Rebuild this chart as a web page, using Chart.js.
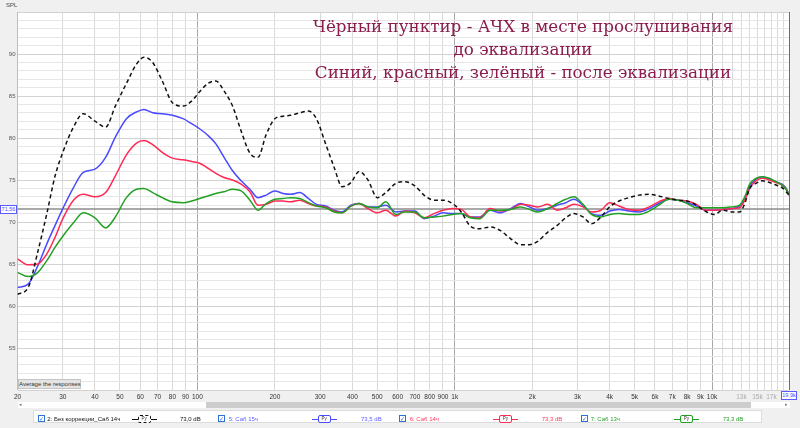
<!DOCTYPE html>
<html lang="ru">
<head>
<meta charset="utf-8">
<script src="https://cdn.jsdelivr.net/npm/chart.js@4.4.1/dist/chart.umd.min.js"></script>
<style>
  html, body { margin: 0; padding: 0; }
  body { width: 800px; height: 428px; background: #f0f0f0; position: relative; overflow: hidden; font-family: "Liberation Sans", Arial, sans-serif; }
  #chart { position: absolute; left: 0; top: 0; }
  .abs { position: absolute; white-space: nowrap; }
  .title { left: 523px; top: 14.7px; transform: translateX(-50%); color: #8b1c4e; font-family: "DejaVu Serif", serif; font-size: 16.75px; line-height: 23px; text-align: center; }
  .spl { left: 6px; top: 2px; font-size: 6px; color: #444; }
  .cursor { left: 0; top: 205px; width: 15px; height: 7px; border: 1px solid #5a5aff; background: #fff; color: #4a4aff; font-size: 5.5px; line-height: 7px; text-align: center; }
  .maxbox { left: 781px; top: 391px; width: 14px; height: 7px; border: 1px solid #5a5aff; background: #fff; color: #4a4aff; font-size: 5.5px; line-height: 7px; text-align: center; }
  .avg { left: 18px; top: 379px; width: 63px; height: 10px; background: #e4e4e4; border: 1px solid #c4c4c4; font-size: 6px; line-height: 8px; text-align: center; color: #333; box-sizing: border-box; }
  .track { left: 18px; top: 402px; width: 772px; height: 6px; background: #fff; }
  .thumb { left: 206px; top: 402px; width: 545px; height: 6px; background: #cdcdcd; }
  .arrow { top: 401px; font-size: 5px; color: #777; }
  .legend { left: 33px; top: 410px; width: 729px; height: 13px; background: #fff; border: 1px solid #dcdcdc; box-sizing: border-box; }
  .chk { top: 415px; width: 7px; height: 7px; border: 1px solid #2f6fd8; box-sizing: border-box; color: #2f6fd8; font-size: 6px; line-height: 6px; text-align: center; background: #fff; }
  .ltxt { top: 415px; font-size: 6px; line-height: 8px; }
  .sym-line { top: 419px; height: 0; border-top: 1.3px solid; }
  .sym-box { top: 415px; width: 13px; height: 8px; border: 1.3px solid; border-radius: 2px; background: #fff; box-sizing: border-box; font-size: 4.5px; line-height: 6px; text-align: center; color: #333; }
</style>
</head>
<body>
<canvas id="chart" width="800" height="428"></canvas>

<div class="abs title">
  <div>Чёрный пунктир - АЧХ в месте прослушивания</div>
  <div>до эквализации</div>
  <div>Синий, красный, зелёный - после эквализации</div>
</div>
<div class="abs spl">SPL</div>
<div class="abs cursor">71,56</div>
<div class="abs maxbox">19,9k</div>
<div class="abs avg">Average the responses</div>
<div class="abs track"></div>
<div class="abs thumb"></div>
<div class="abs arrow" style="left:19px">◂</div>
<div class="abs arrow" style="left:785px">▸</div>

<div class="abs legend"></div>
<div id="legendItems"></div>

<script>
// частоты, Гц
const freqs = [
  20, 22, 24, 26, 28, 30, 33, 36, 40, 44, 48, 53, 58, 62, 67, 73, 80, 88, 95,
  102, 110, 118, 127, 137, 148, 160, 172, 185, 200, 215, 230, 250, 270, 290,
  315, 340, 365, 395, 425, 460, 500, 540, 590, 640, 700, 760, 830, 900, 980,
  1060, 1150, 1250, 1370, 1500, 1650, 1800, 1950, 2100, 2300, 2500, 2700, 2900,
  3150, 3400, 3700, 4000, 4350, 4750, 5200, 5700, 6200, 6800, 7400, 8000, 8700,
  9400, 10200, 11000, 12000, 12800, 13400, 14000, 14800, 15700, 16700, 17700,
  18700, 19400, 19900
];

// 2: Без коррекции_Саб 14ч (чёрный пунктир)
const noEqLevels = [
  61.4, 62.2, 66.5, 71.0, 75.5, 78.3, 81.3, 82.9, 82.0, 81.3, 83.8, 86.5, 88.8, 89.6, 89.0, 86.8, 84.2, 83.8, 84.4,
  85.5, 86.5, 86.8, 85.6, 83.8, 80.8, 78.2, 77.7, 80.4, 82.3, 82.6, 82.7, 83.0, 83.2, 82.3,
  79.3, 76.5, 74.2, 74.7, 76.0, 75.0, 72.9, 73.5, 74.6, 74.8, 74.3, 73.2, 72.6, 72.6, 72.2,
  71.2, 69.5, 69.2, 69.4, 69.0, 68.0, 67.3, 67.3, 67.7, 68.8, 69.6, 70.5, 71.0,
  70.6, 69.8, 70.6, 71.8, 72.5, 72.9, 73.2, 73.3, 73.1, 72.8, 72.6, 72.5, 72.0,
  71.3, 70.9, 71.4, 71.2, 71.2, 72.2, 74.0, 74.6, 74.9, 74.7, 74.4,
  74.1, 73.6, 73.2
];

// 5: Саб 15ч (синий)
const sub15Levels = [
  62.2, 62.6, 64.8, 67.4, 69.6, 71.6, 74.1, 75.9, 76.3, 77.7, 80.1, 82.3, 83.1, 83.4, 83.0, 82.9, 82.7, 82.3, 81.7,
  81.1, 80.3, 79.3, 77.7, 76.1, 74.9, 73.9, 72.9, 73.2, 73.7, 73.4, 73.3, 73.5, 72.8, 72.1,
  71.9, 71.4, 71.2, 72.0, 72.2, 71.8, 71.8, 72.0, 71.2, 71.3, 71.3, 70.4, 70.7, 71.1, 71.0,
  71.0, 70.6, 70.6, 71.4, 71.1, 71.6, 72.2, 71.8, 71.4, 71.6, 72.0, 72.3, 72.7,
  72.0, 71.0, 70.8, 71.3, 71.5, 71.3, 71.2, 71.6, 72.2, 72.7, 72.6, 72.3, 71.9,
  71.4, 71.4, 71.5, 71.6, 71.9, 72.8, 74.2, 75.1, 75.4, 75.1, 74.8,
  74.5, 74.0, 73.2
];

// 6: Саб 14ч (красный)
const sub14Levels = [
  65.6, 64.9, 65.0, 66.2, 68.2, 70.4, 72.6, 73.3, 73.0, 73.5, 75.5, 78.0, 79.4, 79.7, 79.2, 78.3, 77.6, 77.4, 77.2,
  77.0, 76.4, 75.8, 75.3, 75.0, 74.5, 73.6, 72.0, 72.1, 72.5, 72.5, 72.4, 72.6, 72.2, 71.9,
  71.8, 71.3, 71.1, 71.9, 72.2, 71.6, 71.1, 71.4, 70.7, 71.3, 71.1, 70.5, 71.0, 71.4, 71.6,
  71.5, 70.6, 70.5, 71.6, 71.3, 71.5, 72.1, 72.0, 71.8, 72.1, 71.4, 71.7, 72.1,
  71.8, 71.2, 71.4, 72.3, 71.9, 71.5, 71.4, 71.8, 72.4, 72.8, 72.6, 72.5, 72.1,
  71.4, 71.4, 71.5, 71.6, 71.7, 72.6, 74.0, 74.9, 75.2, 75.0, 74.7,
  74.4, 73.9, 73.2
];

// 7: Саб 13ч (зелёный)
const sub13Levels = [
  64.0, 63.5, 64.0, 65.4, 67.0, 68.3, 69.9, 71.1, 70.5, 69.3, 70.6, 72.9, 73.9, 74.0, 73.5, 72.9, 72.4, 72.3, 72.5,
  72.8, 73.1, 73.4, 73.6, 73.9, 73.7, 72.6, 71.4, 72.2, 72.7, 72.8, 72.9, 72.8, 72.3, 71.9,
  71.7, 71.2, 71.1, 71.9, 72.2, 71.8, 71.7, 72.4, 70.9, 71.2, 71.2, 70.5, 70.6, 70.7, 70.9,
  71.0, 70.5, 70.4, 71.4, 71.4, 71.5, 71.8, 71.5, 71.2, 71.6, 72.2, 72.7, 73.0,
  72.1, 70.9, 70.6, 70.9, 71.0, 70.9, 70.9, 71.3, 72.0, 72.7, 72.6, 72.2, 71.7,
  71.7, 71.7, 71.7, 71.8, 72.0, 73.0, 74.5, 75.2, 75.4, 75.2, 74.8,
  74.4, 73.9, 73.3
];

const targetLevel = 71.56;

const xTicks = [20, 30, 40, 50, 60, 70, 80, 90, 100, 200, 300, 400, 500, 600, 700, 800, 900,
  1000, 2000, 3000, 4000, 5000, 6000, 7000, 8000, 9000, 10000, 11000, 12000, 13000, 14000,
  15000, 16000, 17000, 18000, 19000, 19900];
const xTickText = ['20', '30', '40', '50', '60', '70', '80', '90', '100', '200', '300', '400', '500', '600', '700', '800', '900',
  '1k', '2k', '3k', '4k', '5k', '6k', '7k', '8k', '9k', '10k', '', '', '13k', '',
  '15k', '', '17k', '', '', ''];
const yLabelValues = [55, 60, 65, 70, 75, 80, 85, 90];

const legendItems = [
  { chk: 37.7, name: '2: Без коррекции_Саб 14ч', nameX: 47.3, symX: 131.7, val: '73,0 dB', valX: 180, color: '#111', text: '#111', dashed: true },
  { chk: 218, name: '5: Саб 15ч', nameX: 228.7, symX: 311.7, val: '73,5 dB', valX: 361, color: '#4a4aff', text: '#5c5cff' },
  { chk: 399, name: '6: Саб 14ч', nameX: 409.7, symX: 493, val: '73,3 dB', valX: 541.7, color: '#ff2a55', text: '#ff3a60' },
  { chk: 580.7, name: '7: Саб 13ч', nameX: 590.7, symX: 674, val: '73,3 dB', valX: 722.7, color: '#22a022', text: '#2aa02a' },
];

function pts(levels) {
  return freqs.map((f, i) => ({ x: f, y: levels[i] }));
}

const legendEl = document.getElementById('legendItems');
legendEl.innerHTML = legendItems.map((it) => `
  <div class="abs chk" style="left:${it.chk}px">✓</div>
  <div class="abs ltxt" style="left:${it.nameX}px;color:${it.text}">${it.name}</div>
  <div class="abs sym-line" style="left:${it.symX}px;width:25px;border-top-color:${it.color}"></div>
  <div class="abs sym-box" style="left:${it.symX + 6}px;border-color:${it.color};border-style:${it.dashed ? 'dashed' : 'solid'}">Ру</div>
  <div class="abs ltxt" style="left:${it.valX}px;color:${it.text}">${it.val}</div>`).join('');

const plotBg = {
  id: 'plotBg',
  beforeDraw(chart) {
    const { ctx, chartArea: a } = chart;
    ctx.save();
    ctx.fillStyle = '#ffffff';
    ctx.fillRect(a.left, a.top, a.right - a.left, a.bottom - a.top);
    ctx.restore();
  },
};

Chart.defaults.font.family = '"Liberation Sans", Arial, sans-serif';

const lineBase = { pointRadius: 0, borderWidth: 1.5, fill: false, cubicInterpolationMode: 'monotone' };

new Chart(document.getElementById('chart'), {
  type: 'line',
  data: {
    datasets: [
      { ...lineBase, label: 'Без коррекции', data: pts(noEqLevels), borderColor: '#111111', borderDash: [4, 3] },
      { ...lineBase, label: 'Саб 13ч', data: pts(sub13Levels), borderColor: '#22a022' },
      { ...lineBase, label: 'Саб 14ч', data: pts(sub14Levels), borderColor: '#ff2a55' },
      { ...lineBase, label: 'Саб 15ч', data: pts(sub15Levels), borderColor: '#4a4aff' },
      { ...lineBase, label: 'cursor', data: [{ x: 20, y: targetLevel }, { x: 19900, y: targetLevel }], borderColor: '#8c8c8c', borderWidth: 1.5, cubicInterpolationMode: 'default', tension: 0 },
    ],
  },
  options: {
    responsive: false,
    animation: false,
    events: [],
    layout: { padding: { top: 12, right: 11, left: 0, bottom: 0 } },
    plugins: { legend: { display: false }, tooltip: { enabled: false } },
    scales: {
      x: {
        type: 'logarithmic',
        min: 20,
        max: 19900,
        afterBuildTicks: (s) => { s.ticks = xTicks.map((v) => ({ value: v })); },
        afterFit: (s) => { s.height = 38; },
        border: { display: false },
        grid: {
          drawTicks: false,
          color: (c) => {
            const v = c.tick && c.tick.value;
            if (v === 19900) return '#6e6e6e';
            if (v === 100 || v === 1000 || v === 10000) return '#a8a8a8';
            if (v === 20) return '#bdbdbd';
            return '#dadada';
          },
        },
        ticks: {
          autoSkip: false,
          maxRotation: 0,
          padding: 3,
          font: { size: 6.5 },
          color: (c) => ([13000, 15000, 17000].includes(c.tick.value) ? '#aaaaaa' : '#333333'),
          callback: (v, i) => xTickText[i],
        },
      },
      y: {
        min: 50,
        max: 95,
        afterBuildTicks: (s) => {
          const t = [];
          for (let v = 50; v <= 95; v++) t.push({ value: v });
          s.ticks = t;
        },
        afterFit: (s) => { s.width = 17.5; },
        border: { display: false },
        grid: {
          drawTicks: false,
          color: (c) => (c.tick.value % 5 === 0 ? '#d2d2d2' : '#e6e6e6'),
        },
        ticks: {
          autoSkip: false,
          padding: 2,
          font: { size: 6 },
          color: '#555555',
          callback: (v) => (yLabelValues.includes(v) ? String(v) : ''),
        },
      },
    },
  },
  plugins: [plotBg],
});
</script>
</body>
</html>
